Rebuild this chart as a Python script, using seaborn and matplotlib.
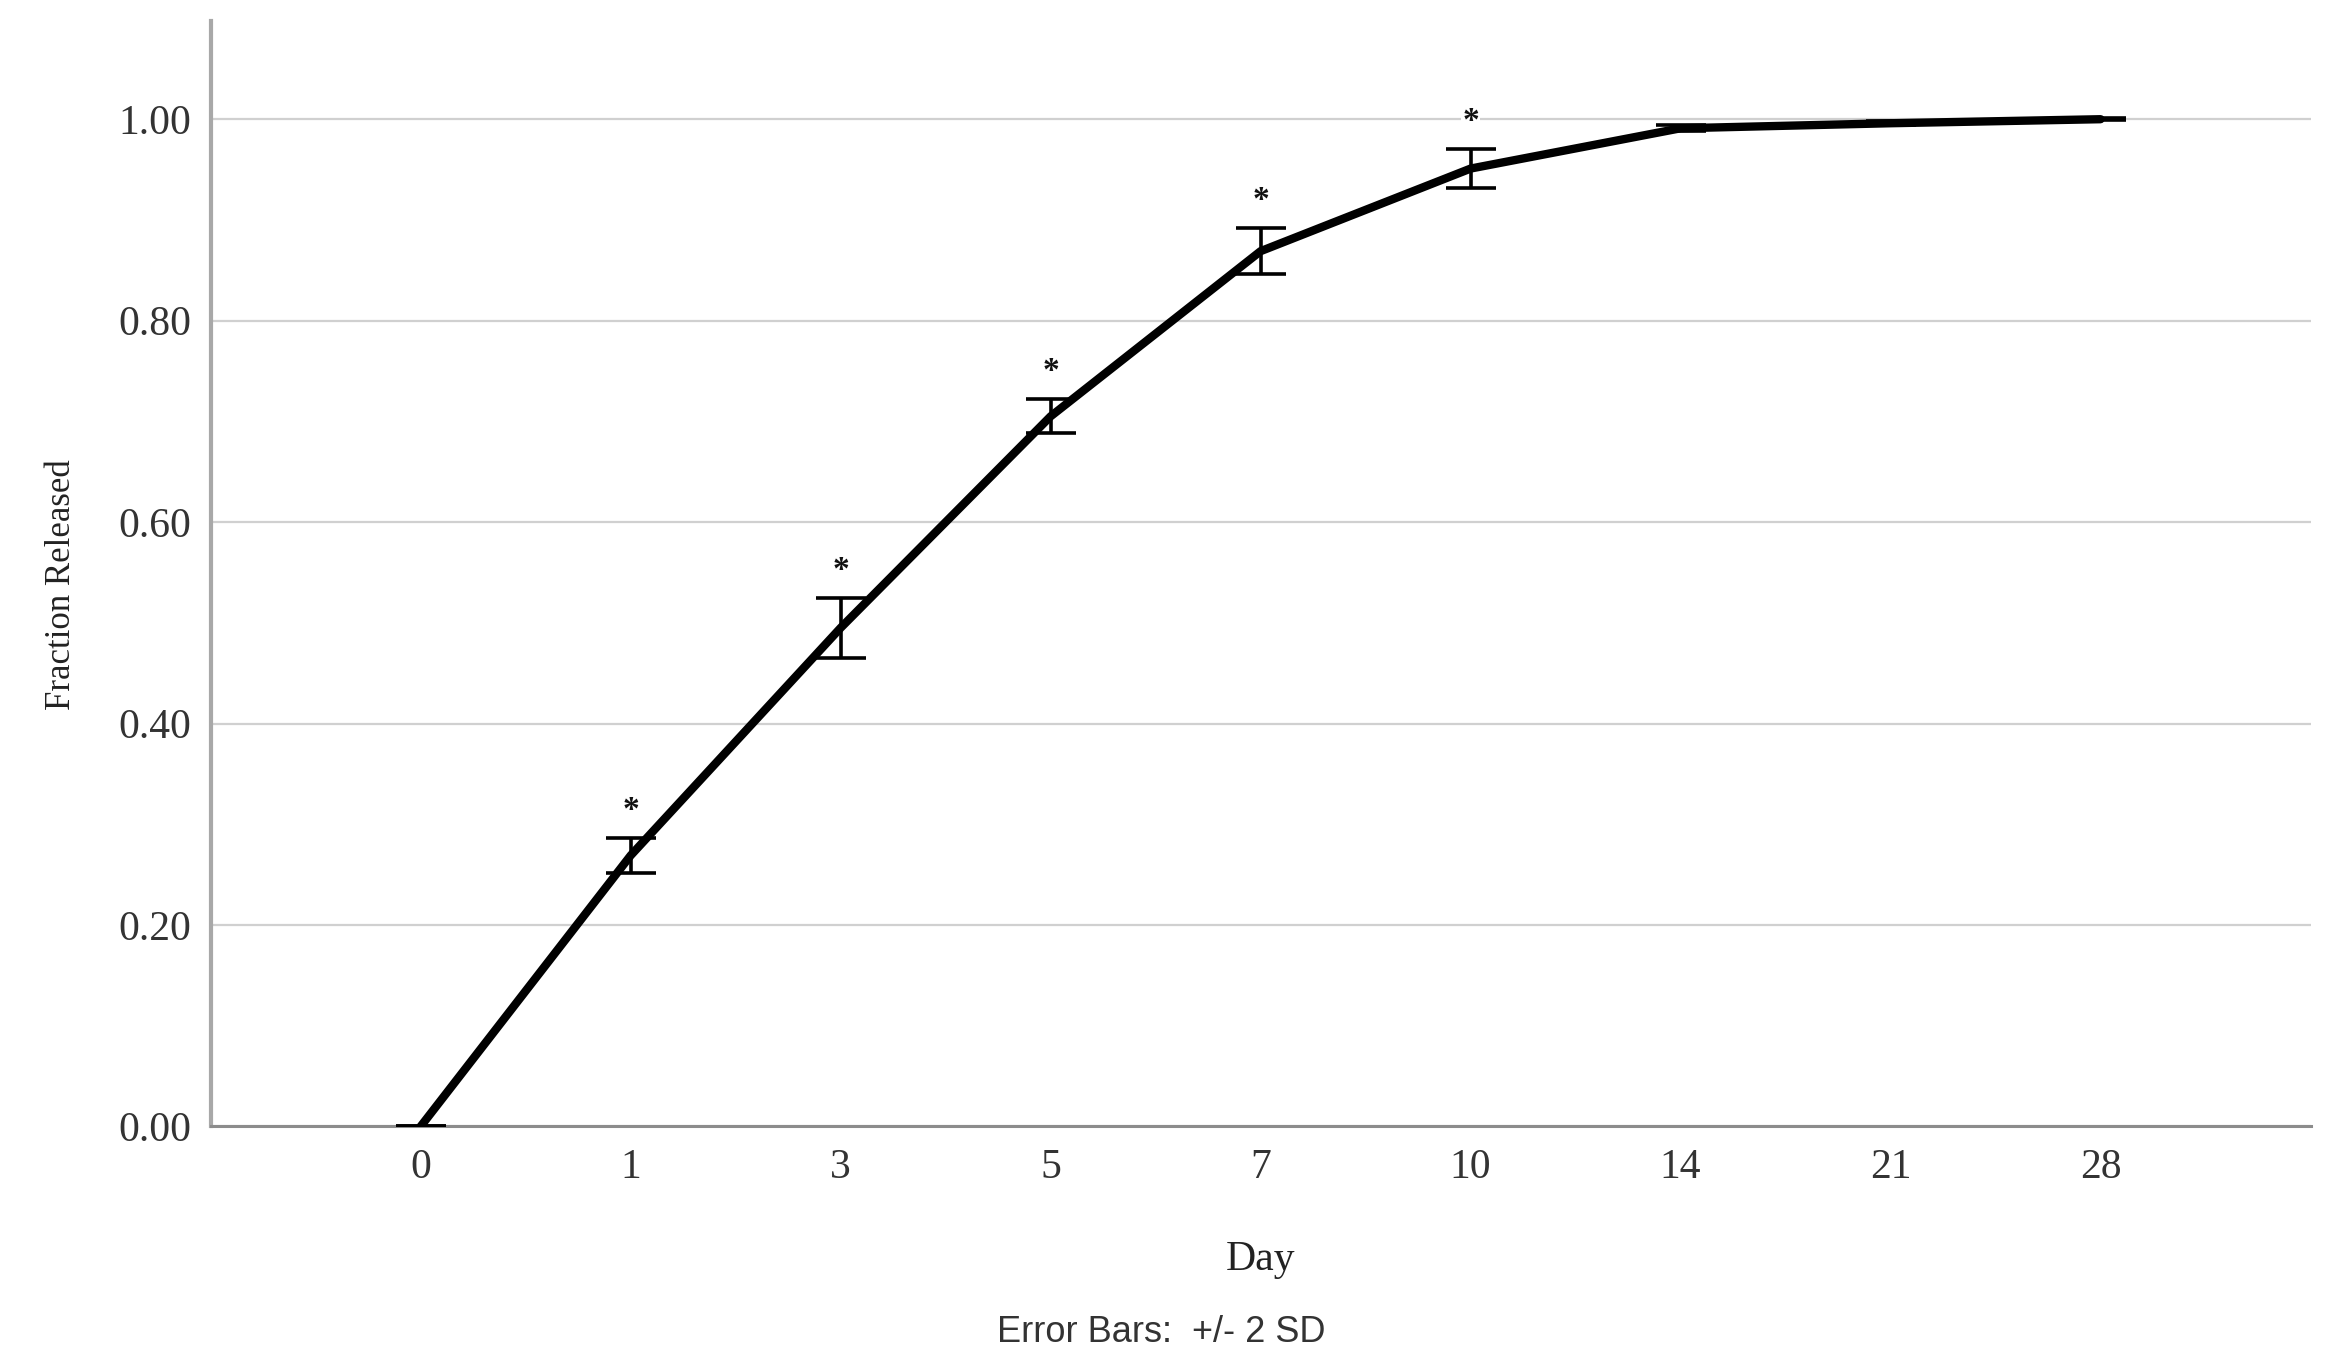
import numpy as np
import pandas as pd
import seaborn as sns
import matplotlib.pyplot as plt

# values
days = ['0', '1', '3', '5', '7', '10', '14', '21', '28']
fraction = [0.0, 0.269, 0.495, 0.705, 0.869, 0.951, 0.991, 0.996, 1.0]
two_sd = [0.0, 0.017, 0.030, 0.017, 0.023, 0.019, 0.003, 0.002, 0.001]
significant = [False, True, True, True, True, True, False, False, False]

df = pd.DataFrame({'Day': days, 'Fraction': fraction, 'Err': two_sd})
df['pos'] = np.arange(len(df))

sns.set_style("white")
plt.rcParams['font.family'] = ['Liberation Serif', 'DejaVu Serif']

fig = plt.figure(figsize=(23.41, 13.67), dpi=100)
ax = fig.add_axes([0.090, 0.176, 0.897, 0.809])

ax.grid(axis='y', color='#d0d0d0', lw=1.6, zorder=0)
ax.set_axisbelow(True)

sns.lineplot(data=df, x='pos', y='Fraction', color='black', lw=6, ax=ax, zorder=3)
ax.errorbar(df['pos'], df['Fraction'], yerr=df['Err'], fmt='none',
            ecolor='black', elinewidth=2.6, capsize=18, capthick=2.6, zorder=4)

# significance markers
for p, y, e, sig in zip(df['pos'], df['Fraction'], df['Err'], significant):
    if sig:
        ax.text(p, y + e + 0.012, '*', ha='center', va='bottom', fontsize=24,
                fontweight='bold', color='#111111', zorder=5,
                bbox=dict(facecolor='white', edgecolor='none', pad=1))

ax.set_xlim(-1, len(days))
ax.set_ylim(0, 1.098)
ax.set_xticks(df['pos'])
ax.set_xticklabels(days)
ax.set_yticks([0, 0.2, 0.4, 0.6, 0.8, 1.0])
ax.set_yticklabels([f'{v:.2f}' for v in [0, 0.2, 0.4, 0.6, 0.8, 1.0]])
ax.tick_params(axis='both', length=0, labelsize=30, labelcolor='#333333')
ax.tick_params(axis='x', pad=16)
ax.tick_params(axis='y', pad=14)

for side in ['top', 'right']:
    ax.spines[side].set_visible(False)
ax.spines['left'].set_color('#a8a8a8')
ax.spines['left'].set_linewidth(3)
ax.spines['bottom'].set_color('#8c8c8c')
ax.spines['bottom'].set_linewidth(2.2)

ax.set_xlabel('Day', fontsize=30, color='#222222')
ax.set_ylabel('Fraction Released', fontsize=25, color='#222222')
ax.xaxis.set_label_coords(0.5, -0.103)
ax.yaxis.set_label_coords(-0.063, 0.49)

fig.text(0.496, 0.025, 'Error Bars:  +/- 2 SD', ha='center', va='center',
         fontsize=26, color='#333333', family=['Liberation Sans', 'DejaVu Sans'])

fig.savefig('out.png', dpi=100)
